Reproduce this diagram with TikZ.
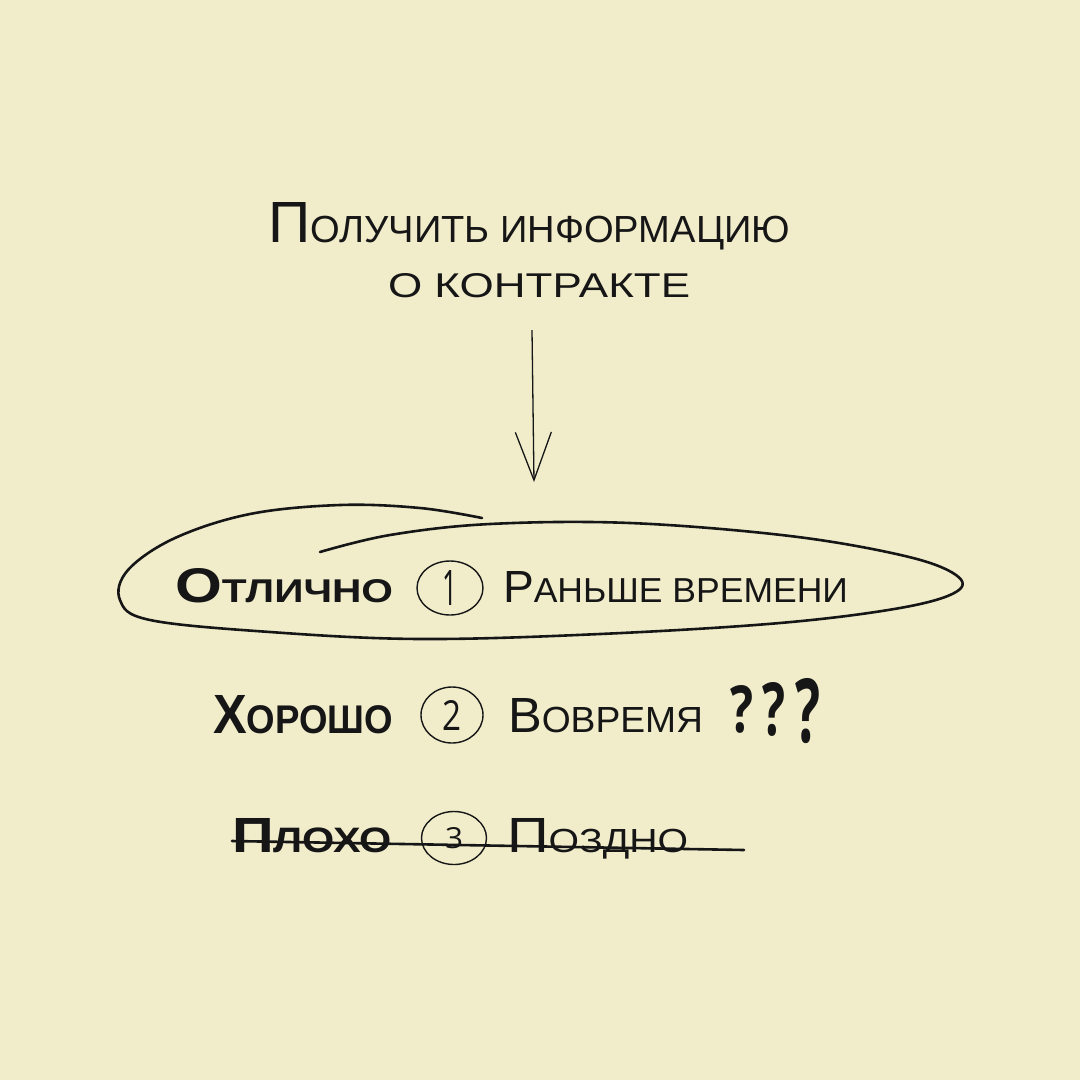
\documentclass[tikz,border=0pt]{standalone}
\usepackage{fontspec}
\setmainfont{Liberation Sans}
\newfontfamily\handfont{Open Sans}
\usetikzlibrary{arrows.meta,shapes.geometric}
\definecolor{paper}{HTML}{F1EDCB}
\definecolor{ink}{HTML}{161616}
\newcommand\fsc[3]{{\fontsize{#1}{#1}\selectfont #2}{\fontsize{10}{10}\selectfont\MakeUppercase{#3}}}
\tikzset{
  txt/.style={anchor=base west, inner sep=0pt, outer sep=0pt, text=ink},
  qmark/.style={txt, font=\handfont\bfseries},
  numcirc/.style={ellipse, draw=ink, line width=1.4pt, inner sep=0pt, text=ink, font=\handfont},
  loopline/.style={draw=ink, line width=2.6pt, line cap=round, line join=round},
  strike/.style={draw=ink, line width=2.6pt, line cap=round},
  arrowline/.style={draw=ink, line width=1.3pt, -{Straight Barb[length=48pt,width=36pt,line width=1.3pt]}}
}
\begin{document}
\begin{tikzpicture}[x=1pt,y=-1pt]
\fill[paper] (0,0) rectangle (1080,1080);
\useasboundingbox (0,0) rectangle (1080,1080);

% title
\node[txt] (t1) at (268,242) {\resizebox{522pt}{40pt}{\fsc{15.4}{П}{олучить информацию}}};
\node[txt] (t2) at (388,297) {\resizebox{302pt}{24pt}{\MakeUppercase{о контракте}}};

% arrow
\coordinate (a1) at (532,330);
\coordinate (a2) at (534,482);
\draw[arrowline] (a1) -- (a2);

% loop around first row
\draw[loopline] plot[smooth, tension=0.6] coordinates {
 (482,518) (420,508) (340,505) (250,514) (175,538) (128,570) (120,600) (150,620)
 (270,632) (420,639) (600,634) (780,623) (900,608) (956,592) (956,575) (905,556)
 (790,536) (630,523) (490,524) (390,535) (320,552)};

% row 1
\node[txt] (g1) at (175,602) {\resizebox{218pt}{34pt}{\bfseries\fsc{14.8}{О}{тлично}}};
\node[numcirc, minimum width=66pt, minimum height=54pt] (c1) at (450,588) {\resizebox{15pt}{35pt}{1}};
\node[txt] (d1) at (503,602) {\resizebox{345pt}{31pt}{\fsc{13}{Р}{аньше времени}}};

% row 2
\node[txt] (g2) at (213,733) {\resizebox{180pt}{38pt}{\bfseries\fsc{13.8}{Х}{орошо}}};
\node[numcirc, minimum width=62pt, minimum height=56pt] (c2) at (452,715) {\resizebox{19pt}{30pt}{2}};
\node[txt] (d2) at (508,732) {\resizebox{195pt}{34pt}{\fsc{13.6}{В}{овремя}}};
\node[qmark] (q1) at (730,732) {\resizebox{23pt}{47pt}{?}};
\node[qmark] (q2) at (762,735) {\resizebox{23pt}{53pt}{?}};
\node[qmark] (q3) at (795,742) {\resizebox{25pt}{64pt}{?}};

% row 3
\node[txt] (g3) at (232,852) {\resizebox{160pt}{34pt}{\bfseries\fsc{14}{П}{лохо}}};
\node[numcirc, minimum width=65pt, minimum height=53pt] (c3) at (454,838) {\resizebox{18pt}{21pt}{3}};
\node[txt] (d3) at (507,852) {\resizebox{181pt}{34pt}{\fsc{14.8}{П}{оздно}}};
\coordinate (s1) at (232,841);
\coordinate (s2) at (744,850);
\draw[strike] (s1) -- (s2);
\end{tikzpicture}
\end{document}
